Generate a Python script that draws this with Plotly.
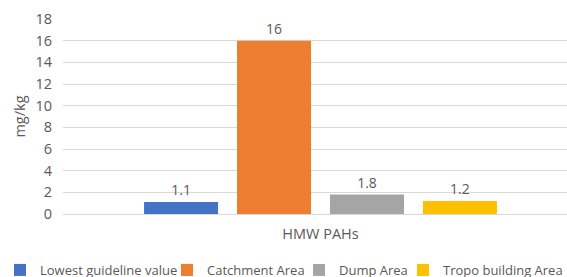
import plotly.graph_objects as go

categories = ["HMW PAHs"]
series_names = ["Lowest guideline value", "Catchment Area", "Dump Area", "Tropo building Area"]
series_values = [[1.1], [16], [1.8], [1.2]]
series_labels = ["1.1", "16", "1.8", "1.2"]
colors = ["#4472C4", "#ED7D31", "#A5A5A5", "#FFC000"]
y_ticks = [0, 2, 4, 6, 8, 10, 12, 14, 16, 18]

W, H = 567, 277
font_family = "Open Sans, Liberation Sans, sans-serif"
gray = "#595959"

# legend box left edge (px) for each entry; later entries are drawn first
legend_left_px = [-6, 167, 299, 403]
legend_names = ["legend4", "legend3", "legend2", "legend"]

fig = go.Figure()
for name, vals, lab, c, lg in zip(series_names, series_values, series_labels, colors, legend_names):
    fig.add_trace(go.Bar(
        x=categories, y=vals, name=name, marker=dict(color=c, line=dict(width=0)),
        text=[lab], textposition="outside", cliponaxis=False,
        textfont=dict(size=14, color=gray, family=font_family),
        legend=lg,
    ))

layout_legends = {}
for lg, lx in zip(legend_names, legend_left_px):
    layout_legends[lg] = dict(
        orientation="h", xref="container", yref="container",
        x=lx / W, xanchor="left", y=(H - 270) / H, yanchor="middle",
        font=dict(size=13, color=gray, family=font_family),
        bgcolor="rgba(0,0,0,0)", borderwidth=0,
    )

fig.update_layout(
    width=W, height=H,
    margin=dict(l=63, r=0, t=19, b=63),
    paper_bgcolor="white", plot_bgcolor="white",
    barmode="group", bargap=0.278, bargroupgap=0.204,
    font=dict(family=font_family, color=gray, size=14),
    xaxis=dict(range=[-0.5, 0.4786], showgrid=False, showline=True,
               linecolor="#D9D9D9", ticks="", ticklabelstandoff=7,
               tickfont=dict(size=14.5, color=gray)),
    yaxis=dict(range=[0, 18], tickvals=y_ticks, showgrid=True, gridcolor="#D9D9D9",
               zeroline=False, ticks="", ticklabelstandoff=10,
               tickfont=dict(size=14.5, color=gray),
               title=dict(text="mg/kg", font=dict(size=14.5, color=gray), standoff=6)),
    showlegend=True,
    **layout_legends,
)
fig.write_html("out.html", config={"displayModeBar": False},
               post_script="document.body.style.margin='0';document.body.style.overflow='hidden';")
